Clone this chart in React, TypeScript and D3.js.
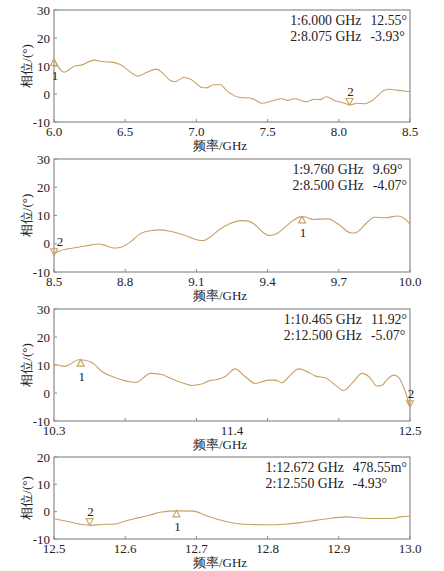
import React, { useEffect, useRef } from 'react';
import * as d3 from 'd3';

// frequency (GHz) / phase (°)
const P1_FREQ = [6.0, 6.07, 6.15, 6.19, 6.28, 6.35, 6.41, 6.47, 6.59, 6.65, 6.72, 6.77, 6.82, 6.85, 6.91, 6.96, 7.04, 7.07, 7.12, 7.17, 7.21, 7.25, 7.29, 7.39, 7.46, 7.53, 7.6, 7.64, 7.69, 7.77, 7.83, 7.87, 7.91, 7.97, 8.04, 8.08, 8.13, 8.18, 8.23, 8.32, 8.35, 8.42, 8.5];
const P1_PHASE = [12.5, 7.8, 10.1, 10.3, 12.1, 11.5, 11.4, 10.4, 6.4, 7.7, 8.9, 7.1, 4.7, 4.4, 5.9, 5.3, 2.3, 2.2, 3.3, 3.3, 1.3, -0.1, -1.1, -1.6, -3.3, -2.5, -1.7, -2.3, -1.7, -2.8, -1.9, -2.0, -1.0, -2.3, -3.3, -3.9, -3.3, -3.5, -2.5, 1.3, 1.7, 1.3, 0.8];

const P2_FREQ = [8.5, 8.525, 8.596, 8.638, 8.687, 8.708, 8.75, 8.778, 8.82, 8.862, 8.905, 8.947, 8.989, 9.045, 9.101, 9.129, 9.157, 9.2, 9.24, 9.289, 9.318, 9.346, 9.381, 9.409, 9.437, 9.472, 9.507, 9.542, 9.563, 9.591, 9.654, 9.697, 9.753, 9.774, 9.81, 9.851, 9.893, 9.95, 9.978, 10.0];
const P2_PHASE = [-3.6, -2.5, -1.3, -0.7, -0.1, -0.4, -1.5, -1.3, 0.5, 3.5, 4.6, 4.9, 4.4, 3.2, 1.4, 1.1, 2.3, 5.2, 7.1, 8.2, 8.0, 6.8, 4.0, 2.9, 3.5, 5.8, 8.2, 9.6, 9.4, 8.6, 8.8, 7.0, 3.8, 4.0, 6.8, 9.4, 9.2, 9.8, 8.8, 7.0];

const P3_FREQ = [10.3, 10.327, 10.362, 10.399, 10.451, 10.492, 10.534, 10.605, 10.688, 10.771, 10.812, 10.853, 10.895, 10.967, 11.019, 11.101, 11.153, 11.205, 11.267, 11.308, 11.36, 11.419, 11.481, 11.543, 11.584, 11.626, 11.667, 11.708, 11.76, 11.812, 11.853, 11.915, 11.987, 12.039, 12.09, 12.142, 12.204, 12.245, 12.297, 12.328, 12.359, 12.4, 12.431, 12.473, 12.5];
const P3_PHASE = [10.3, 10.0, 9.5, 10.3, 11.9, 11.7, 10.9, 7.3, 5.3, 4.0, 3.8, 5.5, 7.0, 6.6, 5.3, 3.5, 2.7, 3.1, 4.5, 4.8, 6.0, 8.6, 5.9, 3.4, 4.0, 4.6, 4.6, 3.7, 6.4, 8.6, 7.9, 6.1, 5.2, 2.8, 0.9, 3.5, 7.0, 5.9, 2.5, 2.8, 4.9, 6.4, 5.5, 0.1, -5.0];

const P4_FREQ = [12.5, 12.518, 12.537, 12.553, 12.565, 12.586, 12.602, 12.621, 12.635, 12.649, 12.663, 12.677, 12.696, 12.714, 12.743, 12.766, 12.799, 12.822, 12.846, 12.869, 12.892, 12.911, 12.93, 12.953, 12.976, 12.986, 13.0];
const P4_PHASE = [-2.6, -3.5, -4.6, -5.0, -4.7, -4.5, -3.3, -2.1, -1.2, -0.2, 0.2, 0.3, 0.2, -1.5, -3.7, -4.6, -4.8, -4.6, -4.0, -3.1, -2.3, -1.9, -2.3, -2.5, -2.5, -1.9, -1.7];

const X_DOMAINS = [[6.0, 8.5], [8.5, 10.0], [10.3, 12.5], [12.5, 13.0]];
const Y_DOMAINS = [[-10, 30], [-10, 30], [-10, 30], [-10, 20]];

const X_TICKS = [
  [6.0, 6.5, 7.0, 7.5, 8.0, 8.5],
  [8.5, 8.8, 9.1, 9.4, 9.7, 10.0],
  [10.3, 10.74, 11.18, 11.62, 12.06, 12.5],
  [12.5, 12.6, 12.7, 12.8, 12.9, 13.0],
];
// panel 3 only labels the ends and the middle
const X_LABEL_POS = [X_TICKS[0], X_TICKS[1], [10.3, 11.4, 12.5], X_TICKS[3]];

const Y_TICKS = [
  [-10, 0, 10, 20, 30],
  [-10, 0, 10, 20, 30],
  [-10, 0, 10, 20, 30],
  [-10, 0, 10, 20],
];

// markers: name, where the triangle is drawn, readout value, pointing up or down
const MARKERS = [
  [{ n: '1', f: 6.0, v: 12.55, up: true }, { n: '2', f: 8.075, v: -3.93, up: false }],
  [{ n: '1', f: 9.545, v: 9.69, up: true }, { n: '2', f: 8.5, v: -4.07, up: false }],
  [{ n: '1', f: 10.465, v: 11.92, up: true }, { n: '2', f: 12.5, v: -5.07, up: false }],
  [{ n: '1', f: 12.672, v: 0.47855, up: true }, { n: '2', f: 12.55, v: -4.93, up: false }],
];

const READOUT_FREQ = [
  ['1:6.000 GHz', '2:8.075 GHz'],
  ['1:9.760 GHz', '2:8.500 GHz'],
  ['1:10.465 GHz', '2:12.500 GHz'],
  ['1:12.672 GHz', '2:12.550 GHz'],
];
const READOUT_VAL = [
  ['12.55°', '-3.93°'],
  ['9.69°', '-4.07°'],
  ['11.92°', '-5.07°'],
  ['478.55m°', '-4.93°'],
];

const SERIES = [
  [P1_FREQ, P1_PHASE],
  [P2_FREQ, P2_PHASE],
  [P3_FREQ, P3_PHASE],
  [P4_FREQ, P4_PHASE],
];

const W = 444;
const H = 571;
const LEFT = 54;
const RIGHT = 410;
const TOPS = [10, 159, 309, 457];
const HEIGHTS = [112, 113, 112, 82];
const LINE = '#c9a064';
const FRAME = '#8c8c8c';
const TEXT = '#222';
const FONT = '"Liberation Serif", "Times New Roman", serif';

export default function App() {
  const svgRef = useRef<SVGSVGElement>(null);

  useEffect(() => {
    if (!svgRef.current) return;
    const svg = d3.select(svgRef.current);
    svg.selectAll('*').remove();

    SERIES.forEach(([freq, phase], i) => {
      const top = TOPS[i];
      const bottom = top + HEIGHTS[i];
      const x = d3.scaleLinear().domain(X_DOMAINS[i]).range([LEFT, RIGHT]);
      const y = d3.scaleLinear().domain(Y_DOMAINS[i]).range([bottom, top]);
      const g = svg.append('g').attr('font-family', FONT).attr('font-size', 13).attr('fill', TEXT);

      // frame
      g.append('rect')
        .attr('x', LEFT).attr('y', top)
        .attr('width', RIGHT - LEFT).attr('height', bottom - top)
        .attr('fill', 'none').attr('stroke', FRAME).attr('stroke-width', 1.2);

      // y ticks + labels
      Y_TICKS[i].forEach((t) => {
        g.append('line')
          .attr('x1', LEFT).attr('x2', LEFT + 3)
          .attr('y1', y(t)).attr('y2', y(t))
          .attr('stroke', FRAME);
        g.append('text')
          .attr('x', LEFT - 4).attr('y', y(t)).attr('dy', '0.35em')
          .attr('text-anchor', 'end')
          .text(t);
      });

      // x ticks
      X_TICKS[i].forEach((t) => {
        g.append('line')
          .attr('x1', x(t)).attr('x2', x(t))
          .attr('y1', bottom).attr('y2', bottom - 3)
          .attr('stroke', FRAME);
      });
      X_LABEL_POS[i].forEach((t) => {
        g.append('text')
          .attr('x', x(t)).attr('y', bottom + 13.5)
          .attr('text-anchor', 'middle')
          .text(d3.format('.1f')(t));
      });

      // axis titles
      g.append('text')
        .attr('x', 220).attr('y', bottom + 28)
        .attr('text-anchor', 'middle')
        .text('频率/GHz');
      g.append('text')
        .attr('transform', `translate(31, ${(top + bottom) / 2}) rotate(-90)`)
        .attr('text-anchor', 'middle')
        .text('相位/(°)');

      // trace
      const pts = freq.map((f, k) => [f, phase[k]] as [number, number]);
      const line = d3.line<[number, number]>()
        .x((d) => x(d[0]))
        .y((d) => y(d[1]))
        .curve(d3.curveMonotoneX);
      g.append('path')
        .attr('d', line(pts))
        .attr('fill', 'none')
        .attr('stroke', LINE)
        .attr('stroke-width', 1.1);

      // markers
      MARKERS[i].forEach((m) => {
        const mx = x(m.f);
        const my = y(m.v);
        const d = m.up
          ? `M${mx},${my}L${mx - 3.5},${my + 6.5}L${mx + 3.5},${my + 6.5}Z`
          : `M${mx},${my}L${mx - 3.5},${my - 6.5}L${mx + 3.5},${my - 6.5}Z`;
        g.append('path')
          .attr('d', d)
          .attr('fill', 'none')
          .attr('stroke', LINE)
          .attr('stroke-width', 1.1);
        const dx = !m.up && mx <= LEFT + 1 ? 6 : 1;
        g.append('text')
          .attr('x', mx + dx)
          .attr('y', m.up ? my + 21 : my - 9.5)
          .attr('text-anchor', 'middle')
          .text(m.n);
      });

      // readout block, values left-aligned in a column flush with the right edge
      const rg = g.append('g').attr('font-size', 13.8);
      const vals = READOUT_VAL[i].map((v, k) =>
        rg.append('text').attr('y', top + 15 + k * 16).text(v)
      );
      const maxW = d3.max(vals, (t) => (t.node() as SVGTextElement).getComputedTextLength()) || 0;
      const vx = RIGHT - 3 - maxW;
      vals.forEach((t) => t.attr('x', vx));
      READOUT_FREQ[i].forEach((s, k) => {
        rg.append('text')
          .attr('x', vx - 9).attr('y', top + 15 + k * 16)
          .attr('text-anchor', 'end')
          .text(s);
      });
    });
  }, []);

  return (
    <svg
      ref={svgRef}
      width={W}
      height={H}
      style={{ position: 'absolute', left: 0, top: 0, background: '#fff' }}
    />
  );
}
